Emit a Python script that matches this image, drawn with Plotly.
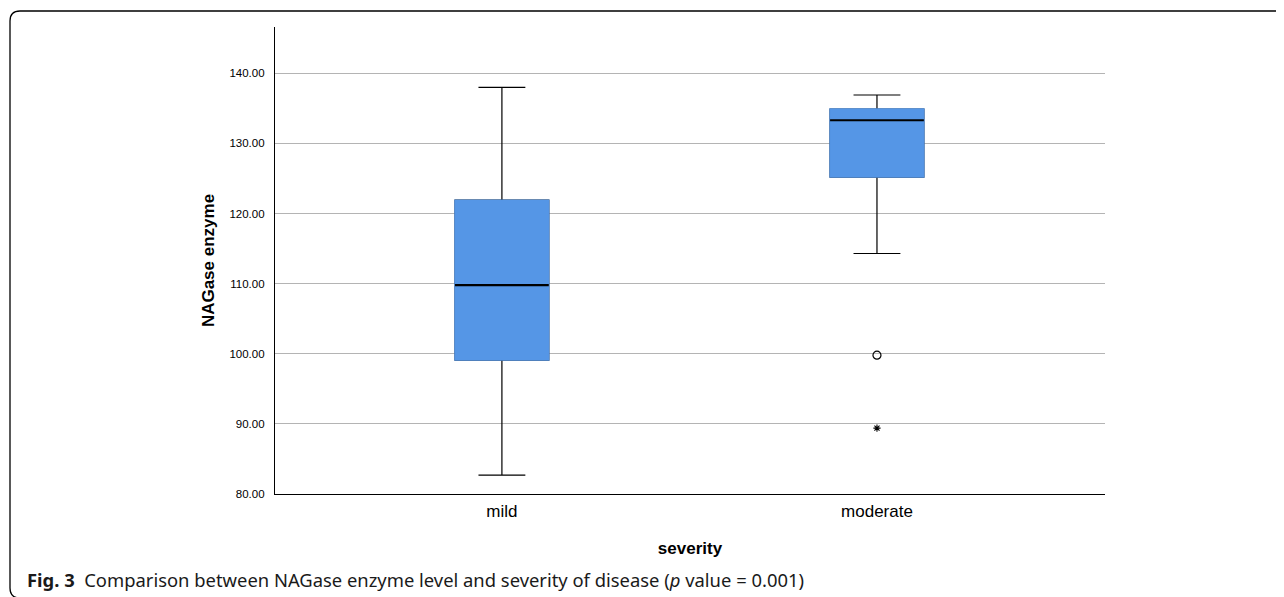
import plotly.graph_objects as go

categories = ["mild", "moderate"]
q1 = [99.1, 125.2]
median = [109.8, 133.3]
q3 = [121.9, 134.9]
lower_whisker = [82.7, 114.3]
upper_whisker = [138.0, 136.9]
outlier_circle = [(1, 99.8)]
outlier_star = [(1, 89.4)]
y_ticks = [80, 90, 100, 110, 120, 130, 140]

OFF = 8  # page body margin
W, H = 1284 - OFF, 597 - OFF
L, R, T, B = 275 - OFF, 1105 - OFF, 27 - OFF, 494 - OFF
box_w = 0.25
blue = "#5596E6"

def px(x):
    return (x - OFF - L) / (R - L)

def py(y):
    return (B - (y - OFF)) / (B - T)

pos = list(range(len(categories)))
fig = go.Figure()
fig.add_trace(go.Box(x=pos, q1=q1, median=median, q3=q3,
                     lowerfence=lower_whisker, upperfence=upper_whisker,
                     line=dict(color="black", width=1.2), fillcolor=blue,
                     width=box_w, whiskerwidth=0.5, showlegend=False, hoverinfo="skip"))
fig.add_trace(go.Box(x=pos, q1=q1, median=median, q3=q3,
                     lowerfence=q1, upperfence=q3,
                     line=dict(color=blue, width=1.5), fillcolor=blue,
                     width=box_w, whiskerwidth=0, showlegend=False, hoverinfo="skip"))
mx, my = [], []
for i, m in zip(pos, median):
    mx += [i - box_w / 2, i + box_w / 2, None]
    my += [m, m, None]
fig.add_trace(go.Scatter(x=mx, y=my, mode="lines", line=dict(color="black", width=2.2),
                         showlegend=False, hoverinfo="skip"))
fig.add_trace(go.Scatter(x=[p[0] for p in outlier_circle], y=[p[1] for p in outlier_circle],
                         mode="markers", marker=dict(symbol="circle-open", size=8,
                         line=dict(color="black", width=1.2), color="black"), showlegend=False))
fig.add_trace(go.Scatter(x=[p[0] for p in outlier_star], y=[p[1] for p in outlier_star],
                         mode="markers", marker=dict(symbol="asterisk-open", size=6,
                         line=dict(color="black", width=1.1), color="black"), showlegend=False))

# border with rounded left corners
r = 10
bx, by_top, by_bot = 10, 11, 598
path = (f"M {px(1300)},{py(by_top)} L {px(bx + r)},{py(by_top)} "
        f"Q {px(bx)},{py(by_top)} {px(bx)},{py(by_top + r)} L {px(bx)},{py(by_bot - r)} "
        f"Q {px(bx)},{py(by_bot)} {px(bx + r)},{py(by_bot)}")
fig.add_shape(type="path", path=path, xref="paper", yref="paper",
              line=dict(color="black", width=1.3))

fig.add_annotation(xref="paper", yref="paper", x=px(25), y=py(579), xanchor="left", yanchor="middle",
                   text="<b>Fig. 3</b>  Comparison between NAGase enzyme level and severity of disease (<i>p</i> value = 0.001)",
                   showarrow=False, font=dict(family="Noto Sans", size=18.4, color="#1a1a1a"))

fig.update_layout(
    width=W, height=H, margin=dict(l=L, r=W - R, t=T, b=H - B),
    paper_bgcolor="white", plot_bgcolor="white",
    font=dict(family="Liberation Sans, Arial", color="black"),
    xaxis=dict(range=[-0.605, 1.608], tickvals=pos, ticktext=categories,
               showgrid=False, zeroline=False, showline=True, linecolor="black", linewidth=1.2,
               ticks="", tickfont=dict(size=17), ticklabelstandoff=1,
               title=dict(text="<b>severity</b>", font=dict(size=17), standoff=22)),
    yaxis=dict(range=[80, 146.6], tickvals=y_ticks, tickformat=".2f",
               showgrid=True, gridcolor="#b4b4b4", gridwidth=1, zeroline=False,
               showline=True, linecolor="black", linewidth=1.2, ticks="",
               tickfont=dict(size=11.5), ticklabelstandoff=7,
               title=dict(text="<b>NAGase enzyme</b>", font=dict(size=17), standoff=10)),
)
fig.write_html("out.html")
